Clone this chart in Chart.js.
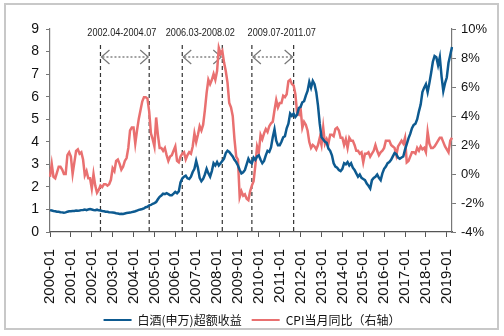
<!DOCTYPE html>
<html>
<head>
<meta charset="utf-8">
<script src="https://cdn.jsdelivr.net/npm/chart.js@4.4.1/dist/chart.umd.min.js"></script>
<style>
  html, body { margin: 0; padding: 0; background: #fff; }
  #wrap { position: relative; width: 504px; height: 336px; }
  #frame { position: absolute; left: 4px; top: 3px; width: 491px; height: 323px; border: 2px solid #c8c8c8; pointer-events: none; }
</style>
</head>
<body>
<div id="wrap">
  <canvas id="chart" width="504" height="336"></canvas>
  <div id="frame"></div>
</div>
<script>
// monthly categories 2000-01 .. 2019-04
const months = [];
for (let y = 2000; y <= 2019; y++) {
    for (let m = 1; m <= 12; m++) {
        if (y === 2019 && m > 4) break;
        months.push(y + '-' + String(m).padStart(2, '0'));
    }
}

// 白酒(申万)超额收益, left axis
const liquorExcess = [
    0.97, 0.95, 0.93, 0.92, 0.90, 0.90, 0.88, 0.87, 0.85, 0.87, 0.90, 0.92,   // 2000
    0.92, 0.93, 0.93, 0.95, 0.94, 0.95, 0.97, 0.98, 1.00, 0.97, 1.00, 1.02,   // 2001
    1.00, 0.98, 0.97, 0.99, 0.96, 0.95, 0.93, 0.92, 0.90, 0.90, 0.88, 0.87,   // 2002
    0.86, 0.85, 0.83, 0.82, 0.80, 0.81, 0.80, 0.82, 0.84, 0.85, 0.86, 0.88,   // 2003
    0.90, 0.92, 0.95, 0.98, 1.00, 1.02, 1.05, 1.10, 1.12, 1.18, 1.20, 1.25,   // 2004
    1.28, 1.33, 1.45, 1.56, 1.62, 1.70, 1.68, 1.72, 1.68, 1.63, 1.63, 1.70,   // 2005
    1.78, 1.72, 1.80, 2.20, 2.37, 2.45, 2.50, 2.38, 2.35, 2.45, 2.66, 2.80,   // 2006
    3.15, 2.85, 2.40, 2.25, 2.35, 2.55, 2.80, 2.60, 2.45, 2.70, 3.05, 2.95,   // 2007
    3.10, 2.95, 3.05, 3.15, 3.25, 3.50, 3.60, 3.55, 3.45, 3.35, 3.20, 3.10,   // 2008
    2.95, 2.75, 2.60, 2.65, 2.75, 3.00, 3.25, 3.10, 3.05, 3.30, 3.20, 3.35,   // 2009
    3.40, 3.20, 3.05, 3.15, 3.40, 3.60, 3.55, 3.75, 4.20, 4.55, 4.05, 3.85,   // 2010
    3.85, 4.00, 4.20, 4.25, 4.60, 4.80, 5.25, 5.15, 5.25, 5.10, 5.20, 5.50,   // 2011
    5.55, 5.75, 5.80, 6.05, 6.25, 6.65, 6.40, 6.70, 6.55, 6.20, 5.60, 4.80,   // 2012
    4.20, 4.10, 4.00, 3.95, 3.70, 3.60, 3.40, 3.05, 2.90, 2.85, 2.75, 2.70,   // 2013
    2.80, 3.05, 3.00, 3.10, 2.95, 3.05, 2.85, 2.75, 2.60, 2.45, 2.55, 2.40,   // 2014
    2.35, 2.30, 2.15, 2.05, 1.93, 2.30, 2.40, 2.45, 2.55, 2.40, 2.30, 2.60,   // 2015
    2.80, 2.90, 3.05, 3.10, 3.20, 3.35, 3.50, 3.45, 3.30, 3.25, 3.30, 3.35,   // 2016
    3.65, 3.90, 4.15, 4.35, 4.60, 4.75, 4.80, 5.00, 5.35, 5.65, 6.20, 6.40,   // 2017
    6.55, 6.20, 6.60, 7.05, 7.55, 7.80, 7.75, 7.40, 7.75, 6.90, 6.25, 6.60,   // 2018
    6.85, 7.50, 7.85, 8.20                                                    // 2019
];

// CPI当月同比 (%), right axis
const cpiYoY = [
    -0.2, 0.7, -0.2, -0.3, 0.1, 0.5, 0.5, 0.3, 0.0, 0.0, 1.3, 1.5,
    1.2, 0.0, 0.8, 1.6, 1.7, 1.4, 1.5, 1.0, -0.1, 0.2, -0.3, -0.3,
    -1.0, 0.0, -0.8, -1.3, -1.1, -0.8, -0.9, -0.7, -0.7, -0.8, -0.7, -0.4,
    0.4, 0.2, 0.9, 1.0, 0.7, 0.3, 0.5, 0.9, 1.1, 1.8, 3.0, 3.2,
    3.2, 2.1, 3.0, 3.8, 4.4, 5.0, 5.3, 5.3, 5.2, 4.3, 2.8, 2.4,
    1.9, 3.9, 2.7, 1.8, 1.8, 1.6, 1.8, 1.3, 0.9, 1.2, 1.3, 1.6,
    1.9, 0.9, 0.8, 1.2, 1.4, 1.5, 1.0, 1.3, 1.5, 1.4, 1.9, 2.8,
    2.2, 2.7, 3.3, 3.0, 3.4, 4.4, 5.6, 6.5, 6.2, 6.5, 6.9, 6.5,
    7.1, 8.7, 8.3, 8.5, 7.7, 7.1, 6.3, 4.9, 4.6, 4.0, 2.4, 1.2,
    1.0, -1.6, -1.2, -1.5, -1.4, -1.7, -1.8, -1.2, -0.8, -0.5, 0.6, 1.9,
    1.5, 2.7, 2.4, 2.8, 3.1, 2.9, 3.3, 3.5, 3.6, 4.4, 5.1, 4.6,
    4.9, 4.9, 5.4, 5.3, 5.5, 6.4, 6.5, 6.2, 6.1, 5.5, 4.2, 4.1,
    4.5, 3.2, 3.6, 3.4, 3.0, 2.2, 1.8, 2.0, 1.9, 1.7, 2.0, 2.5,
    2.0, 3.2, 2.1, 2.4, 2.1, 2.7, 2.7, 2.6, 3.1, 3.2, 3.0, 2.5,
    2.5, 2.0, 2.4, 1.8, 2.5, 2.3, 2.3, 2.0, 1.6, 1.6, 1.4, 1.5,
    0.8, 1.4, 1.4, 1.5, 1.2, 1.4, 1.6, 2.0, 1.6, 1.3, 1.5, 1.6,
    1.8, 2.3, 2.3, 2.3, 2.0, 1.9, 1.8, 1.3, 1.9, 2.1, 2.3, 2.1,
    2.5, 0.8, 0.9, 1.2, 1.5, 1.5, 1.4, 1.8, 1.6, 1.9, 1.7, 1.8,
    1.5, 2.9, 2.1, 1.8, 1.8, 1.9, 2.1, 2.3, 2.5, 2.5, 2.2, 1.9,
    1.7, 1.5, 2.3, 2.5
];

// marked periods: label text, and the months where the dashed lines sit
const periodText = ['2002.04-2004.07', '2006.03-2008.02', '2009.07-2011.07'];
const periodStart = ['2002-06', '2006-05', '2009-09'];
const periodEnd = ['2004-10', '2008-04', '2011-09'];

const seriesNames = ['白酒(申万)超额收益', 'CPI当月同比（右轴）'];
const BLUE = '#0d5a90';
const RED = '#e97070';
const sans = '"Liberation Sans", Arial, sans-serif';

// dashed period lines with double arrows and labels
const periodPlugin = {
    id: 'periods',
    beforeDatasetsDraw(chart) {
        const { ctx, chartArea } = chart;
        const x = chart.scales.x;
        const top = chartArea.top;
        const nudge = [-3, -2, 9];
        ctx.save();
        periodText.forEach((t, i) => {
            const x0 = x.getPixelForValue(months.indexOf(periodStart[i]));
            const x1 = x.getPixelForValue(months.indexOf(periodEnd[i]));
            const ay = top + 28;

            ctx.strokeStyle = '#333';
            ctx.lineWidth = 1.2;
            ctx.setLineDash([4, 3]);
            [x0, x1].forEach(px => {
                ctx.beginPath();
                ctx.moveTo(px, top + 16);
                ctx.lineTo(px, chartArea.bottom);
                ctx.stroke();
            });

            ctx.strokeStyle = '#666';
            ctx.setLineDash([2, 2]);
            ctx.beginPath();
            ctx.moveTo(x0 + 2, ay);
            ctx.lineTo(x1 - 2, ay);
            ctx.stroke();

            ctx.setLineDash([]);
            ctx.strokeStyle = '#777';
            ctx.beginPath();
            ctx.moveTo(x0 + 9, ay - 7);
            ctx.lineTo(x0 + 1, ay);
            ctx.lineTo(x0 + 9, ay + 7);
            ctx.stroke();
            ctx.beginPath();
            ctx.moveTo(x1 - 9, ay - 7);
            ctx.lineTo(x1 - 1, ay);
            ctx.lineTo(x1 - 9, ay + 7);
            ctx.stroke();

            // label text, a little condensed like the original
            ctx.save();
            ctx.translate((x0 + x1) / 2 + nudge[i], top + 4);
            ctx.scale(0.83, 1);
            ctx.fillStyle = '#222';
            ctx.font = '11px ' + sans;
            ctx.textAlign = 'center';
            ctx.textBaseline = 'middle';
            ctx.fillText(t, 0, 0);
            ctx.restore();
        });
        ctx.restore();
    }
};

const ctx = document.getElementById('chart').getContext('2d');
new Chart(ctx, {
    type: 'line',
    data: {
        labels: months,
        datasets: [
            {
                label: seriesNames[0],
                data: liquorExcess,
                borderColor: BLUE,
                backgroundColor: BLUE,
                borderWidth: 2.5,
                pointRadius: 0,
                tension: 0,
                yAxisID: 'y'
            },
            {
                label: seriesNames[1],
                data: cpiYoY,
                borderColor: RED,
                backgroundColor: RED,
                borderWidth: 2.5,
                pointRadius: 0,
                tension: 0,
                yAxisID: 'y1'
            }
        ]
    },
    options: {
        responsive: false,
        animation: false,
        devicePixelRatio: 1,
        layout: { padding: { top: 29, left: 0, right: 0, bottom: 0 } },
        plugins: {
            tooltip: { enabled: false },
            legend: {
                position: 'bottom',
                labels: {
                    boxWidth: 28,
                    boxHeight: 2,
                    padding: 10,
                    color: '#111',
                    font: { size: 12, family: '"Noto Sans CJK SC", sans-serif' },
                    generateLabels(chart) {
                        const items = Chart.defaults.plugins.legend.labels.generateLabels(chart);
                        items.forEach(it => { it.lineWidth = 0; it.fillStyle = it.strokeStyle; });
                        return items;
                    }
                }
            }
        },
        scales: {
            x: {
                offset: false,
                afterFit(scale) { scale.height = 72; },
                grid: { drawOnChartArea: false, drawTicks: true, tickLength: 5, color: '#555' },
                border: { color: '#555', width: 1.2 },
                ticks: {
                    autoSkip: false,
                    maxRotation: 90,
                    minRotation: 90,
                    padding: 12,
                    color: '#111',
                    font: { size: 15, family: sans },
                    callback(v, i) { return months[i].endsWith('-01') ? months[i] : null; }
                }
            },
            y: {
                position: 'left',
                min: 0,
                max: 9,
                afterFit(scale) { scale.width = 50; },
                grid: { drawOnChartArea: false, tickLength: 4, color: '#777' },
                border: { color: '#777', width: 1.2 },
                ticks: { stepSize: 1, autoSkip: false, padding: 7, color: '#111', font: { size: 14, family: sans } }
            },
            y1: {
                position: 'right',
                min: -4,
                max: 10,
                afterFit(scale) { scale.width = 52; },
                grid: { drawOnChartArea: false, tickLength: 4, color: '#777' },
                border: { color: '#777', width: 1.2 },
                ticks: {
                    stepSize: 2,
                    autoSkip: false,
                    padding: 5,
                    color: '#111',
                    font: { size: 13, family: sans },
                    callback(v) { return v + '%'; }
                }
            }
        }
    },
    plugins: [periodPlugin]
});
</script>
</body>
</html>
